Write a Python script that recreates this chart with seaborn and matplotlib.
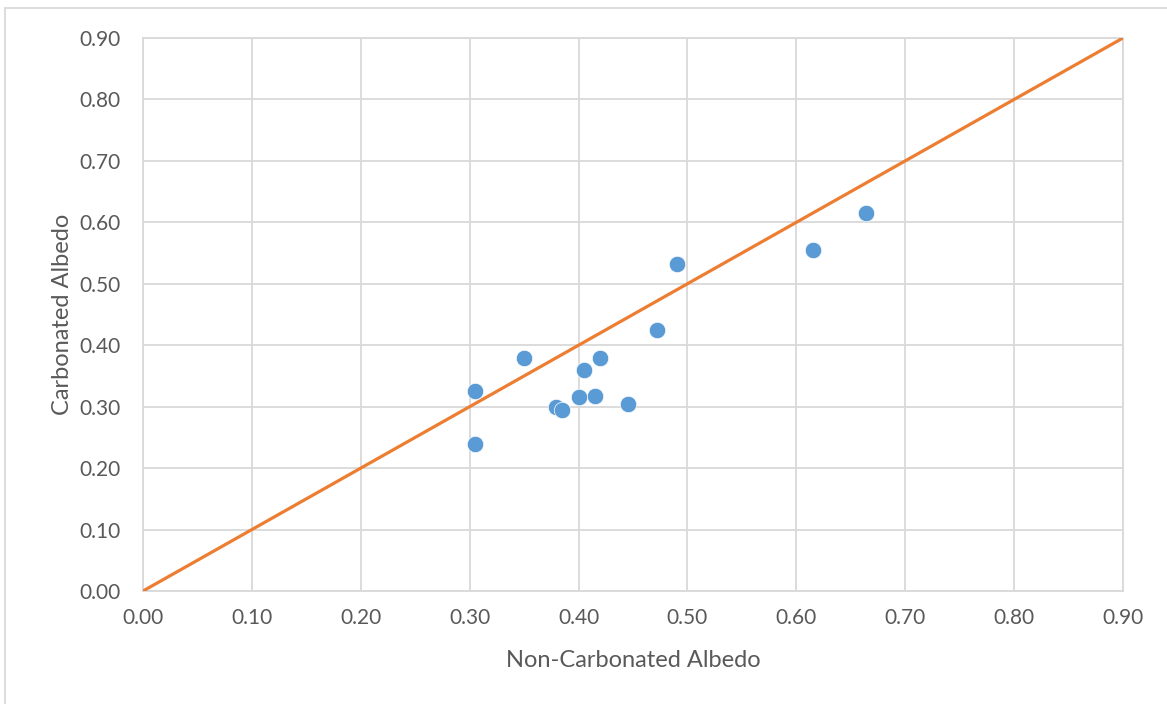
import matplotlib
matplotlib.use("Agg")
import matplotlib.pyplot as plt
import seaborn as sns
import pandas as pd
from matplotlib.lines import Line2D

# Data
non_carbonated = [0.305, 0.305, 0.350, 0.379, 0.385, 0.400, 0.405, 0.415, 0.420, 0.445, 0.472, 0.490, 0.615, 0.664]
carbonated     = [0.325, 0.240, 0.380, 0.300, 0.295, 0.315, 0.360, 0.317, 0.380, 0.305, 0.425, 0.533, 0.555, 0.616]
line_x = [0.0, 0.9]
line_y = [0.0, 0.9]
ticks = [0.0, 0.1, 0.2, 0.3, 0.4, 0.5, 0.6, 0.7, 0.8, 0.9]
tick_labels = [f"{t:.2f}" for t in ticks]

sns.set_theme(style="white")
plt.rcParams['font.family'] = ['Lato', 'DejaVu Sans']

fig = plt.figure(figsize=(11.67, 7.04), dpi=100)
ax = fig.add_axes([143/1167, 1-591/704, (1123-143)/1167, (591-38)/704])

grid_c = "#d9d9d9"
text_c = "#595959"

df = pd.DataFrame({"x": non_carbonated, "y": carbonated})
line_df = pd.DataFrame({"x": line_x, "y": line_y})

sns.lineplot(data=line_df, x="x", y="y", ax=ax, color="#ED7D31", linewidth=2.3, zorder=3)
sns.scatterplot(data=df, x="x", y="y", ax=ax, color="#5B9BD5", s=140, edgecolor="white", linewidth=0.5, zorder=4)

ax.set_xlim(0, 0.9)
ax.set_ylim(0, 0.9)
ax.set_xticks(ticks)
ax.set_yticks(ticks)
ax.set_xticklabels(tick_labels)
ax.set_yticklabels(tick_labels)
ax.grid(True, color=grid_c, linewidth=1.3)
ax.set_axisbelow(True)
for s in ax.spines.values():
    s.set_color(grid_c)
    s.set_linewidth(1.3)
ax.tick_params(axis="both", length=0, labelsize=15, colors=text_c)
ax.tick_params(axis="x", pad=12)
ax.tick_params(axis="y", pad=16)
ax.set_xlabel("Non-Carbonated Albedo", fontsize=17, color=text_c, labelpad=16)
ax.set_ylabel("Carbonated Albedo", fontsize=17, color=text_c, labelpad=5)

# chart-area frame (left and top edges)
fig.add_artist(Line2D([5/1167, 5/1167], [0, 1-8/704], transform=fig.transFigure, color=grid_c, linewidth=1.3))
fig.add_artist(Line2D([5/1167, 1], [1-8/704, 1-8/704], transform=fig.transFigure, color=grid_c, linewidth=1.3))

fig.savefig("out.png", dpi=100)
